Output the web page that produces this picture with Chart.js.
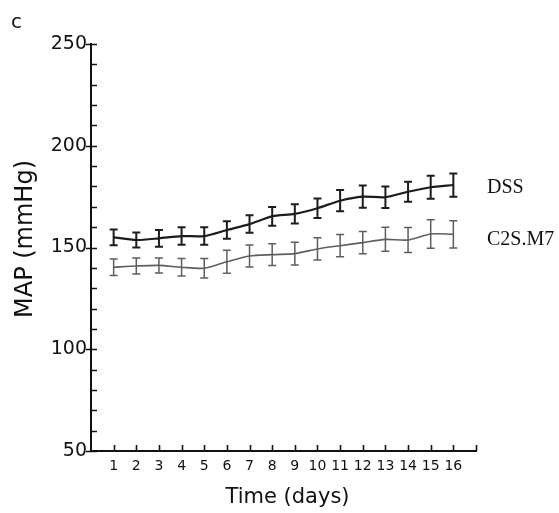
<!DOCTYPE html>
<html>
<head>
<meta charset="utf-8">
<script src="https://cdn.jsdelivr.net/npm/chart.js@4"></script>
<style>
  html, body { margin: 0; padding: 0; background: #fff; }
  #wrap { width: 559px; height: 513px; position: relative; }
</style>
</head>
<body>
<div id="wrap"><canvas id="map-chart"></canvas></div>
<script>
// mean arterial pressure per day, with SEM
let days = [1, 2, 3, 4, 5, 6, 7, 8, 9, 10, 11, 12, 13, 14, 15, 16];
let dss_mean = [155.0, 153.7, 154.5, 155.6, 155.6, 158.6, 161.5, 165.3, 166.5, 169.3, 173.0, 175.0, 174.7, 177.4, 179.6, 180.7];
let dss_sem = [3.9, 3.7, 4.1, 4.3, 4.3, 4.3, 4.3, 4.6, 4.7, 4.8, 5.2, 5.5, 5.3, 4.9, 5.6, 5.7];
let c2s_mean = [140.3, 140.9, 141.2, 140.3, 139.8, 143.0, 145.8, 146.5, 147.0, 149.3, 150.9, 152.4, 154.0, 153.7, 156.6, 156.5];
let c2s_sem = [4.0, 3.9, 3.7, 4.3, 4.8, 5.6, 5.4, 5.4, 5.6, 5.5, 5.5, 5.5, 5.9, 6.1, 7.0, 6.7];
let series_names = ["DSS", "C2S.M7"];
let y_major = 50;

const SANS = "'DejaVu Sans', sans-serif";

function toPoints(xs, ys) {
  return xs.map(function (x, i) { return { x: x, y: ys[i] }; });
}

// error bars, inward axis ticks, series names and axis titles
let extras = {
  id: "extras",
  afterDatasetsDraw: function (chart) {
    let ctx = chart.ctx;
    let xs = chart.scales.x;
    let ys = chart.scales.y;
    chart.data.datasets.forEach(function (ds) {
      ctx.save();
      ctx.strokeStyle = ds.borderColor;
      ctx.lineWidth = ds.errWidth;
      ds.data.forEach(function (p, i) {
        let px = xs.getPixelForValue(p.x);
        let top = ys.getPixelForValue(p.y + ds.err[i]);
        let bot = ys.getPixelForValue(p.y - ds.err[i]);
        ctx.beginPath();
        ctx.moveTo(px, top); ctx.lineTo(px, bot);
        ctx.moveTo(px - 4, top); ctx.lineTo(px + 4, top);
        ctx.moveTo(px - 4, bot); ctx.lineTo(px + 4, bot);
        ctx.stroke();
      });
      // series name to the right of the last point
      let last = ds.data[ds.data.length - 1];
      ctx.fillStyle = "#111";
      ctx.font = "20px 'Liberation Serif', serif";
      ctx.textBaseline = "alphabetic";
      ctx.fillText(ds.label, chart.chartArea.right + 11, ys.getPixelForValue(last.y) + ds.labelShift);
      ctx.restore();
    });
  },
  afterDraw: function (chart) {
    let ctx = chart.ctx;
    let xs = chart.scales.x;
    let ys = chart.scales.y;
    let area = chart.chartArea;
    ctx.save();
    ctx.strokeStyle = "#111";
    ctx.lineWidth = 1.6;
    ctx.beginPath();
    ys.ticks.forEach(function (t) {
      let py = Math.round(ys.getPixelForValue(t.value)) + 0.5;
      let major = t.value % y_major === 0;
      ctx.moveTo(area.left - (major ? 5 : 0), py);
      ctx.lineTo(area.left + 6, py);
    });
    xs.ticks.forEach(function (t) {
      if (t.value === 0) return;
      let px = Math.round(xs.getPixelForValue(t.value)) + 0.5;
      ctx.moveTo(px, area.bottom);
      ctx.lineTo(px, area.bottom - 6);
    });
    ctx.stroke();

    ctx.fillStyle = "#111";
    ctx.textBaseline = "alphabetic";
    // panel letter
    ctx.font = "20px " + SANS;
    ctx.textAlign = "left";
    ctx.fillText("c", 11, 28);
    // x title
    ctx.font = "21px " + SANS;
    ctx.textAlign = "center";
    ctx.fillText("Time (days)", (area.left + area.right) / 2 + 4, 503);
    // y title
    ctx.translate(32, 239);
    ctx.rotate(-Math.PI / 2);
    ctx.font = "24px " + SANS;
    ctx.fillText("MAP (mmHg)", 0, 0);
    ctx.restore();
  },
};

let config = {
  type: "line",
  data: {
    datasets: [
      {
        label: series_names[0],
        data: toPoints(days, dss_mean),
        err: dss_sem,
        borderColor: "#1c1c1c",
        borderWidth: 2.2,
        errWidth: 2,
        labelShift: 8,
        pointRadius: 0,
        tension: 0.25,
      },
      {
        label: series_names[1],
        data: toPoints(days, c2s_mean),
        err: c2s_sem,
        borderColor: "#5e5e5e",
        borderWidth: 1.6,
        errWidth: 1.5,
        labelShift: 11,
        pointRadius: 0,
        tension: 0.25,
      },
    ],
  },
  options: {
    responsive: true,
    maintainAspectRatio: false,
    animation: false,
    layout: { padding: { top: 44, right: 83, left: 0, bottom: 0 } },
    plugins: {
      legend: { display: false },
      tooltip: { enabled: false },
    },
    scales: {
      x: {
        type: "linear",
        min: 0,
        max: 17,
        grid: { display: false, drawTicks: false },
        border: { display: true, color: "#111", width: 2 },
        afterFit: function (scale) { scale.height = 62; },
        ticks: {
          stepSize: 1,
          autoSkip: false,
          maxRotation: 0,
          padding: 7,
          color: "#111",
          font: { family: SANS, size: 14 },
          callback: function (value) {
            return value >= 1 && value <= 16 ? value : "";
          },
        },
      },
      y: {
        min: 50,
        max: 250,
        grid: { display: false, drawTicks: false },
        border: { display: true, color: "#111", width: 2 },
        afterFit: function (scale) { scale.width = 91; },
        ticks: {
          stepSize: 10,
          autoSkip: false,
          padding: 4,
          color: "#111",
          font: { family: SANS, size: 19 },
          callback: function (value) {
            return value % y_major === 0 ? value : "";
          },
        },
      },
    },
  },
  plugins: [extras],
};

let map_chart = new Chart(document.getElementById("map-chart"), config);
</script>
</body>
</html>
